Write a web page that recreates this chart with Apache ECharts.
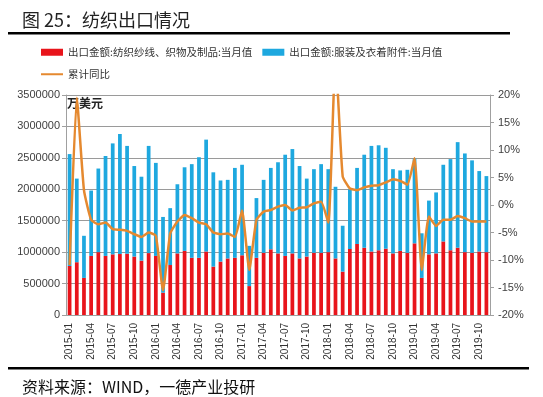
<!DOCTYPE html>
<html>
<head>
<meta charset="utf-8">
<script src="https://cdn.jsdelivr.net/npm/echarts@6/dist/echarts.min.js"></script>
<style>html,body{margin:0;padding:0;background:#fff;}#c{width:543px;height:397px;}</style>
</head>
<body>
<div id="c"></div>
<script>
var categories = ['2015-01','2015-02','2015-03','2015-04','2015-05','2015-06','2015-07','2015-08','2015-09','2015-10','2015-11','2015-12',
'2016-01','2016-02','2016-03','2016-04','2016-05','2016-06','2016-07','2016-08','2016-09','2016-10','2016-11','2016-12',
'2017-01','2017-02','2017-03','2017-04','2017-05','2017-06','2017-07','2017-08','2017-09','2017-10','2017-11','2017-12',
'2018-01','2018-02','2018-03','2018-04','2018-05','2018-06','2018-07','2018-08','2018-09','2018-10','2018-11','2018-12',
'2019-01','2019-02','2019-03','2019-04','2019-05','2019-06','2019-07','2019-08','2019-09','2019-10','2019-11'];

var textileValues = [780000,840000,590000,940000,1000000,940000,965000,970000,975000,930000,865000,985000,
940000,355000,795000,980000,1020000,910000,910000,1010000,770000,850000,900000,910000,
950000,460000,910000,990000,1045000,980000,940000,980000,900000,930000,990000,990000,
1000000,900000,690000,1050000,1130000,1070000,1010000,1030000,1055000,980000,1020000,990000,
1140000,590000,965000,980000,1170000,1030000,1070000,1000000,990000,1010000,1000000];

var apparelValues = [1780000,1330000,670000,1040000,1330000,1590000,1765000,1910000,1715000,1440000,1335000,1705000,
1480000,1205000,905000,1100000,1330000,1490000,1600000,1780000,1500000,1290000,1250000,1430000,
1440000,640000,950000,1160000,1295000,1450000,1610000,1660000,1470000,1240000,1330000,1410000,
1320000,1140000,730000,950000,1210000,1480000,1680000,1670000,1605000,1340000,1280000,1320000,
1350000,710000,855000,970000,1220000,1450000,1680000,1570000,1470000,1280000,1210000];

var cumulativeYoY = [-10.9,19.5,2.7,-2.7,-3.5,-3.2,-4.4,-4.5,-4.7,-5.3,-5.8,-5.0,
-5.6,-15.5,-5.2,-3.0,-1.8,-2.4,-3.2,-3.5,-5.0,-5.3,-5.2,-5.8,
-1.0,-11.8,-2.7,-1.2,-0.9,-0.3,0.0,-1.0,-0.5,-0.4,0.3,0.6,
-3.2,27.0,5.2,3.0,2.7,3.2,3.5,3.6,4.1,4.7,4.4,3.7,
8.5,-11.8,-2.1,-3.8,-2.7,-2.7,-2.0,-2.4,-3.0,-3.0,-3.0];

var leftTicks = [0,500000,1000000,1500000,2000000,2500000,3000000,3500000];
var rightTicks = [-20,-15,-10,-5,0,5,10,15,20];

var nameTextile = '出口金额:纺织纱线、织物及制品:当月值';
var nameApparel = '出口金额:服装及衣着附件:当月值';
var nameYoY = '累计同比';

var RED = '#E8141B', BLUE = '#1EA8DF', ORANGE = '#E5892F';
var chart = echarts.init(document.getElementById('c'), null, {renderer:'canvas'});
var axisFont = {fontFamily:'Liberation Sans, Arial, sans-serif', fontSize:11, color:'#404040'};

chart.setOption({
  animation:false,
  backgroundColor:'#fff',
  title:[
    {text:'图 25：纺织出口情况', left:17, top:6, textStyle:{fontFamily:'Noto Sans CJK SC', fontSize:18, fontWeight:'normal', color:'#222'}},
    {text:'资料来源：WIND，一德产业投研', left:17, top:374, textStyle:{fontFamily:'Noto Sans CJK SC', fontSize:16, fontWeight:'normal', color:'#111'}}
  ],
  graphic:[
    {type:'rect', shape:{x:8, y:32, width:502, height:2.5}, style:{fill:'#000'}},
    {type:'rect', shape:{x:8, y:367, width:521, height:2.5}, style:{fill:'#000'}},
    {type:'text', left:67, top:97, style:{text:'万美元', fontFamily:'Noto Sans CJK SC', fontSize:12, fontWeight:'bold', fill:'#222'}}
  ],
  legend:[
    {left:36, top:42, itemWidth:22, itemHeight:7, itemGap:10, icon:'rect',
     textStyle:{fontFamily:'Noto Sans CJK SC', fontSize:10.5, color:'#333'},
     data:[nameTextile, nameApparel]},
    {left:36, top:64, itemWidth:22, itemHeight:2, icon:'rect',
     textStyle:{fontFamily:'Noto Sans CJK SC', fontSize:10.5, color:'#333'},
     data:[nameYoY]}
  ],
  grid:{left:66, right:53, top:95, bottom:82},
  xAxis:{
    type:'category', data:categories, boundaryGap:true,
    axisLine:{lineStyle:{color:'#A0A0A0'}},
    axisTick:{interval:2, length:4, lineStyle:{color:'#A0A0A0'}},
    axisLabel:{interval:2, rotate:90, fontSize:10, color:'#333', fontFamily:'Liberation Sans, Arial, sans-serif', margin:8}
  },
  yAxis:[
    {type:'value', min:leftTicks[0], max:leftTicks[leftTicks.length-1], interval:500000,
     axisLine:{show:true, lineStyle:{color:'#A0A0A0'}},
     axisTick:{show:true, length:4, lineStyle:{color:'#A0A0A0'}},
     axisLabel:Object.assign({margin:6, formatter:function(v){return String(v);}}, axisFont),
     splitLine:{lineStyle:{color:'#9A9A9A', width:1}}},
    {type:'value', min:rightTicks[0], max:rightTicks[rightTicks.length-1], interval:5,
     axisLine:{show:true, lineStyle:{color:'#A0A0A0'}},
     axisTick:{show:true, length:4, lineStyle:{color:'#A0A0A0'}},
     axisLabel:Object.assign({margin:8, formatter:'{value}%'}, axisFont),
     splitLine:{show:false}}
  ],
  series:[
    {name:nameTextile, type:'bar', stack:'total', data:textileValues, barWidth:'52%', itemStyle:{color:RED}},
    {name:nameApparel, type:'bar', stack:'total', data:apparelValues, barWidth:'52%', itemStyle:{color:BLUE}},
    {name:nameYoY, type:'line', yAxisIndex:1, data:cumulativeYoY, smooth:0.15, showSymbol:false, symbol:'none', clip:true,
     lineStyle:{color:ORANGE, width:2.5}, itemStyle:{color:ORANGE}, z:5}
  ]
});
</script>
</body>
</html>
